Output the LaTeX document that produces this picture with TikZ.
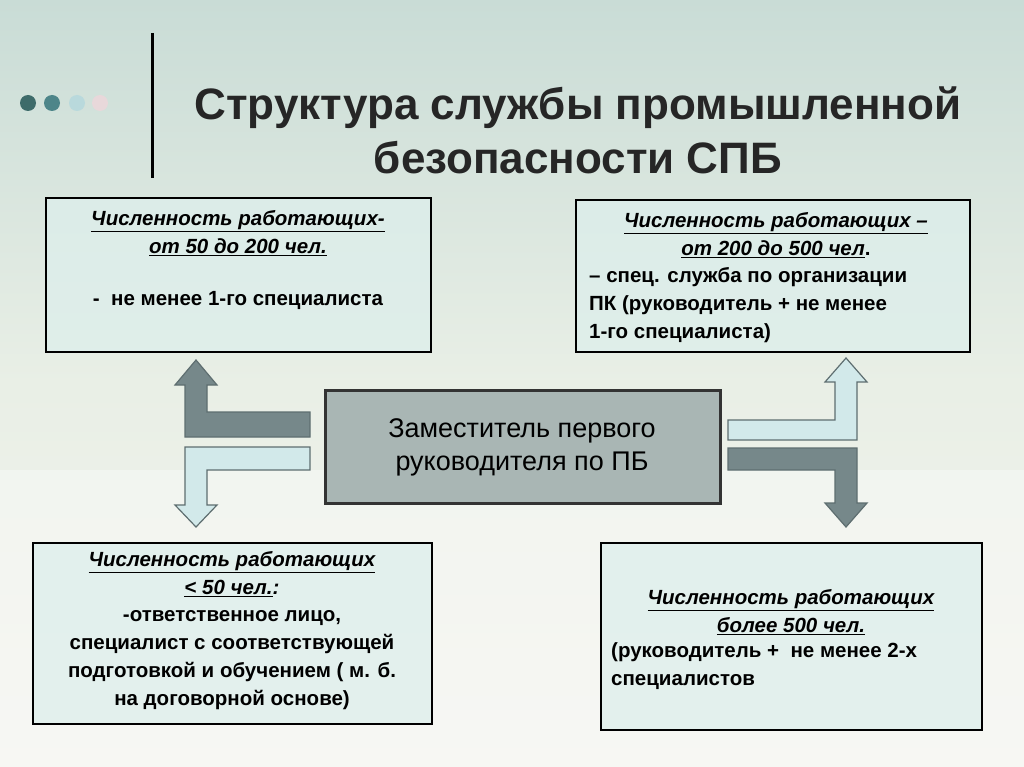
\documentclass[tikz,border=0pt]{standalone}
\usepackage{fontspec}
\setmainfont{Liberation Sans}
\newcommand{\myul}[1]{\underline{#1}}
\begin{document}
\begin{tikzpicture}[x=1pt,y=-1pt,
  box/.style={draw=black,line width=1.6pt,fill=boxfill,fill opacity=0.75,text opacity=1},
  txt/.style={font=\bfseries\fontsize{20.5}{28}\selectfont,align=center,inner sep=0pt},
  darr/.style={draw=arrline,line width=1.2pt,fill=darkarr},
  larr/.style={draw=arrline,line width=1.2pt,fill=lightarr}]
\definecolor{boxfill}{HTML}{DDEFEC}
\definecolor{darkarr}{HTML}{76888A}
\definecolor{lightarr}{HTML}{D2E9EA}
\definecolor{arrline}{HTML}{5E6E70}
\definecolor{bgA}{HTML}{E9EFE6}
\definecolor{bgB}{HTML}{C9DCD6}
\definecolor{bgC}{HTML}{F3F3EE}
\definecolor{dotA}{HTML}{3E6B6A}
\definecolor{dotB}{HTML}{4D8589}
\definecolor{dotC}{HTML}{B9D9DC}
\definecolor{dotD}{HTML}{E8D8DA}
\definecolor{cfill}{HTML}{A9B6B4}
\useasboundingbox (0,0) rectangle (1024,767);
\shade[top color=bgB,bottom color=bgC,middle color=bgA] (0,0) rectangle (1024,767);
\fill[white,opacity=0.35] (0,470) rectangle (1024,767);
% title decoration
\draw[line width=3pt,black] (152,33) -- (152,178);
\fill[dotA] (28,103) circle (8);
\fill[dotB] (52,103) circle (8);
\fill[dotC] (77,103) circle (8);
\fill[dotD] (100,103) circle (8);
\node[font=\bfseries\fontsize{44}{54}\selectfont,align=center,text=black!85] (title) at (578,130) {Структура службы промышленной\\безопасности СПБ};
% boxes
\path[box] (46,198) rectangle (431,352);
\path[box] (576,200) rectangle (970,352);
\path[box] (33,543) rectangle (432,724);
\path[box] (601,543) rectangle (982,730);
\path[draw=black!80,line width=3pt,fill=cfill] (325,390) rectangle (720,503);
% texts
\node[txt] (tl1) at (238,233) {\textit{\myul{Численность работающих-}}\\\textit{\myul{от 50 до 200 чел.}}};
\node[txt] (tl2) at (238,300) {- \ не менее 1-го специалиста};
\node[txt] (tr1) at (776,235) {\textit{\myul{Численность работающих –}}\\\textit{\myul{от 200 до 500 чел}}.};
\node[txt,align=left,anchor=north west] (tr2) at (589,267) {– спец. служба по организации\\ПК (руководитель + не менее\\1-го специалиста)};
\node[font=\fontsize{27}{33}\selectfont,align=center] (c) at (522,447) {Заместитель первого\\руководителя по ПБ};
\node[txt] (bl1) at (232,574) {\textit{\myul{Численность работающих}}\\\textit{\myul{< 50 чел.}:}};
\node[txt] (bl2) at (232,660) {-ответственное лицо,\\специалист с соответствующей\\подготовкой и обучением ( м. б.\\на договорной основе)};
\node[txt] (br1) at (791,612) {\textit{\myul{Численность работающих}}\\\textit{\myul{более 500 чел.}}};
\node[txt,align=left,anchor=north west] (br2) at (611,642) {(руководитель + \ не менее 2-х\\специалистов};
% arrows
\path[darr] (310,412) -- (207,412) -- (207,385) -- (217,385) -- (196,360) -- (175,385) -- (185,385) -- (185,437) -- (310,437) -- cycle;
\path[larr] (310,447) -- (185,447) -- (185,505) -- (175,505) -- (196,527) -- (217,505) -- (207,505) -- (207,470) -- (310,470) -- cycle;
\path[larr] (728,420) -- (835,420) -- (835,382) -- (825,382) -- (846,358) -- (867,382) -- (857,382) -- (857,440) -- (728,440) -- cycle;
\path[darr] (728,448) -- (857,448) -- (857,503) -- (867,503) -- (846,527) -- (825,503) -- (835,503) -- (835,470) -- (728,470) -- cycle;
\end{tikzpicture}
\end{document}
